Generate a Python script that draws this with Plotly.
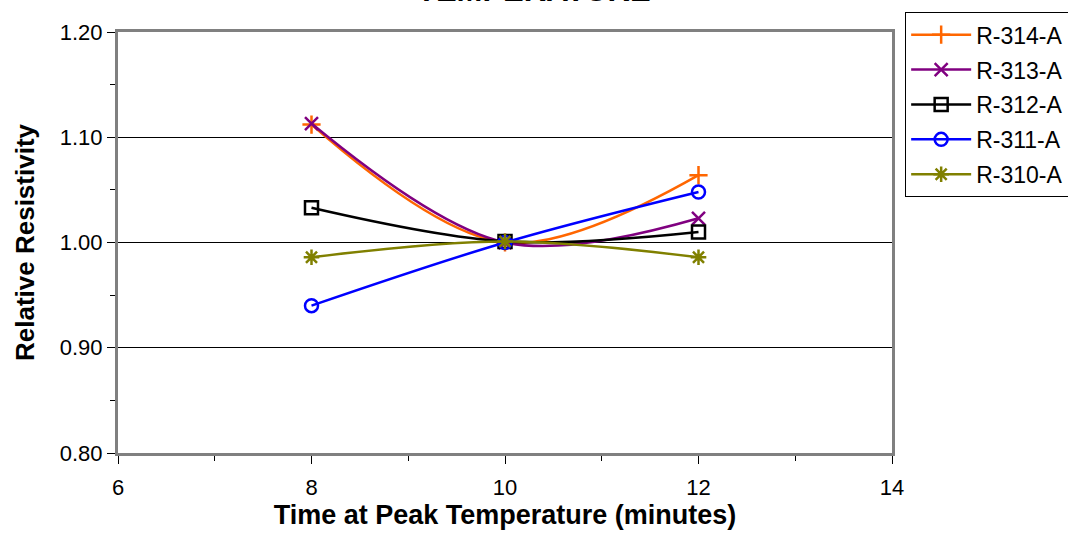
import plotly.graph_objects as go

x_minutes = [8, 10, 12]
series_names = ["R-314-A", "R-313-A", "R-312-A", "R-311-A", "R-310-A"]
r314 = [1.112, 1.000, 1.064]
r313 = [1.113, 1.000, 1.023]
r312 = [1.033, 1.001, 1.010]
r311 = [0.940, 1.000, 1.048]
r310 = [0.986, 1.001, 0.986]
colors = ["#FF6600", "#800080", "#000000", "#0000FF", "#808000"]
symbols = ["cross-thin", "x-thin", "square-open", "circle-open", "asterisk"]
y_ticks = [0.80, 0.90, 1.00, 1.10, 1.20]
x_ticks = [6, 8, 10, 12, 14]

values = [r314, r313, r312, r311, r310]

fig = go.Figure()
for i, (name, vals) in enumerate(zip(series_names, values)):
    fig.add_trace(go.Scatter(
        x=x_minutes, y=vals, name=name, mode="lines+markers",
        line=dict(color=colors[i], width=2.5, shape="spline", smoothing=1.0),
        marker=dict(symbol=symbols[i], size=13, color=colors[i],
                    line=dict(color=colors[i], width=2.5)),
        legendgroup=name,
    ))

font_family = "Liberation Sans, Arial, sans-serif"
fig.update_layout(
    width=1068, height=533,
    margin=dict(l=118, r=176, t=32, b=80, autoexpand=False),
    paper_bgcolor="white", plot_bgcolor="white",
    font=dict(family=font_family, color="black", size=21),
    showlegend=True,
    legend=dict(
        x=1.017, y=1.047, xanchor="left", yanchor="top",
        bordercolor="#000000", borderwidth=1,
        font=dict(size=23, family=font_family),
        traceorder="grouped", tracegroupgap=2, itemwidth=60,
        bgcolor="white",
    ),
    xaxis=dict(
        range=[6, 14], tickvals=x_ticks, ticktext=[str(v) for v in x_ticks],
        ticks="outside", ticklen=8, tickcolor="black",
        ticklabelstandoff=5,
        showgrid=False, zeroline=False,
        showline=True, linecolor="#808080", linewidth=3, mirror=True,
        minor=dict(dtick=1, ticks="outside", ticklen=5, tickcolor="black"),
        title=dict(text="<b>Time at Peak Temperature (minutes)</b>",
                   font=dict(size=27), standoff=0),
        tickfont=dict(size=22),
    ),
    yaxis=dict(
        range=[0.80, 1.20], tickvals=y_ticks, ticktext=["%.2f" % v for v in y_ticks],
        ticks="outside", ticklen=8, tickcolor="black",
        showgrid=True, gridcolor="#000000", gridwidth=1, zeroline=False,
        showline=True, linecolor="#808080", linewidth=3, mirror=True,
        minor=dict(dtick=0.05, ticks="outside", ticklen=5, tickcolor="black"),
        title=dict(text="<b>Relative Resistivity</b>", font=dict(size=26), standoff=18),
        tickfont=dict(size=22),
    ),
    annotations=[dict(
        text="<b>TEMPERATURE</b>", xref="paper", yref="paper",
        x=0.537, y=(453 - 10) / 421, xanchor="center", yanchor="bottom",
        showarrow=False, font=dict(size=31, family=font_family, color="black"),
    )],
)

fig.write_html("out.html")
